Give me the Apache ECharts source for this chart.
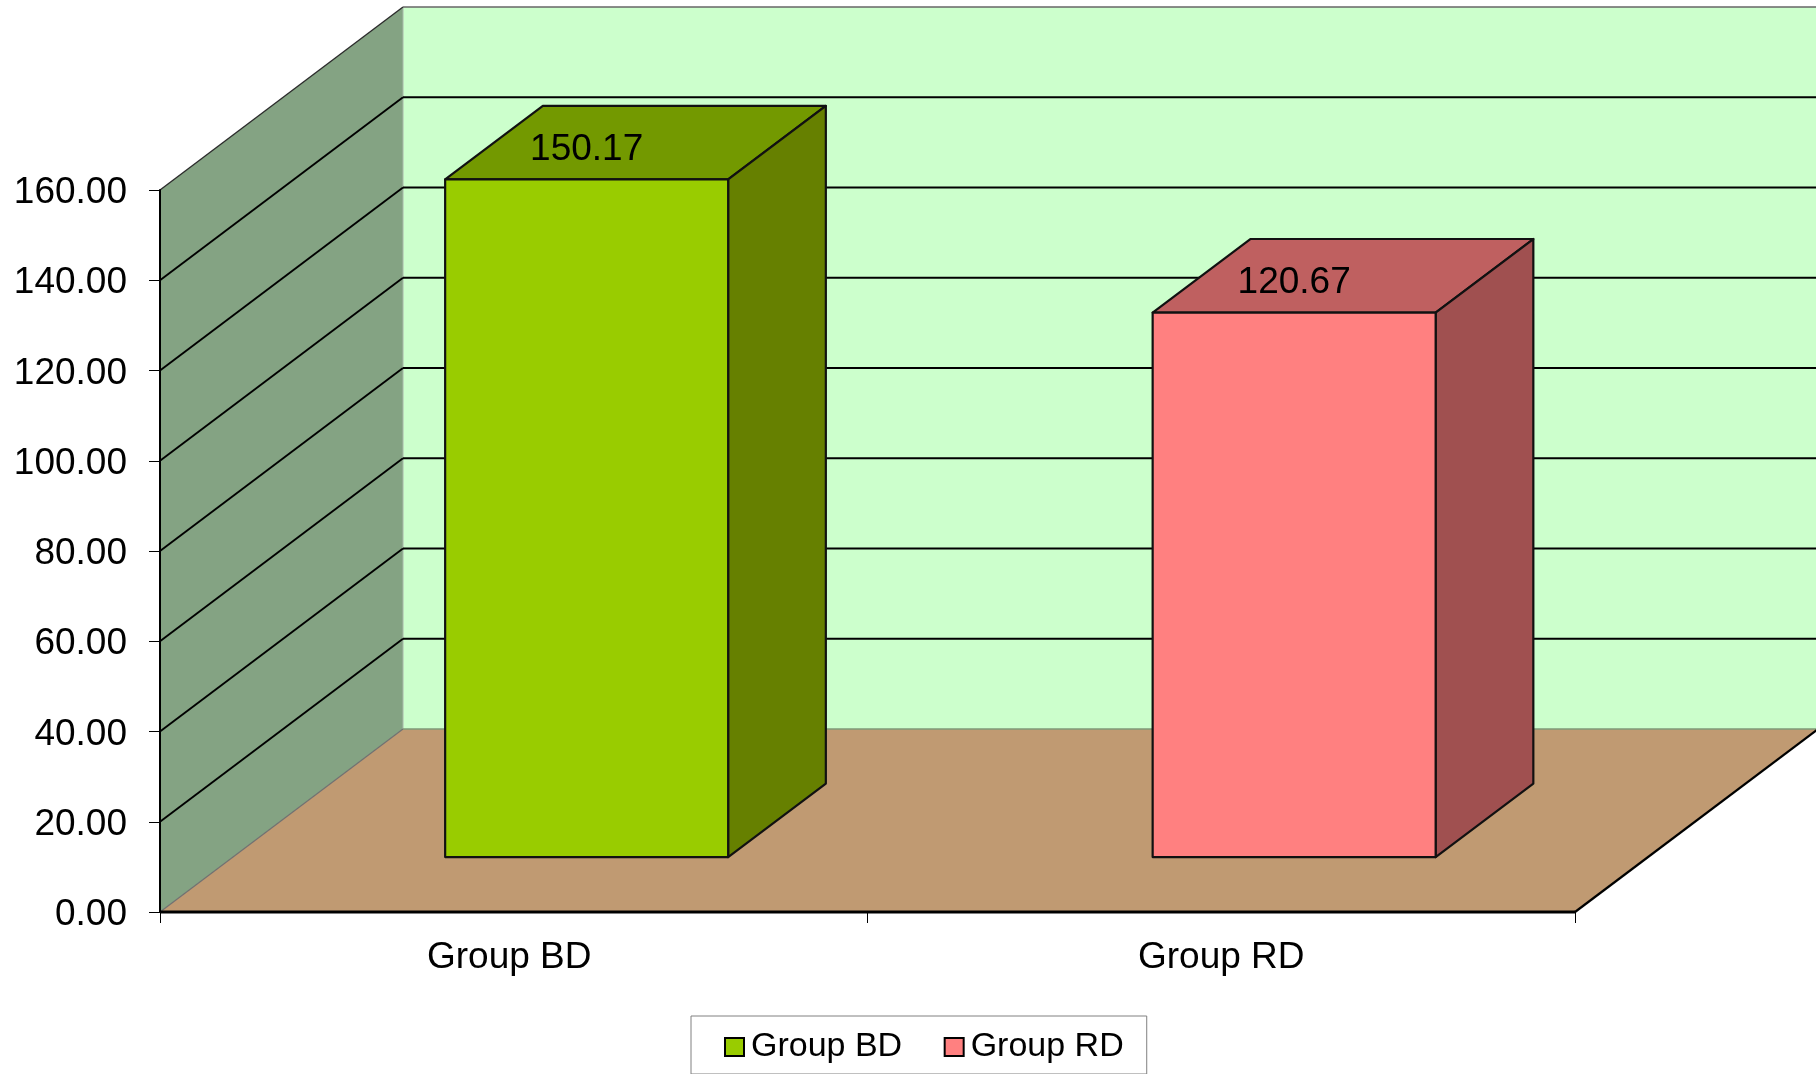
<!DOCTYPE html>
<html>
<head>
<meta charset="utf-8">
<style>html,body{margin:0;padding:0;background:#fff}#c{width:1816px;height:1074px}</style>
<script src="https://cdn.jsdelivr.net/npm/echarts@6/dist/echarts.min.js"></script>
</head>
<body>
<div id="c"></div>
<script>
const categories = ['Group BD', 'Group RD'];
const barValues = [150.17, 120.67];
const gridValues = [0, 20, 40, 60, 80, 100, 120, 140, 160];

const frontColors = ['#99CC00', '#FF8080'];
const topColors = ['#739900', '#BF6060'];
const sideColors = ['#668000', '#A05050'];

const FONT = '"Liberation Sans", Arial, sans-serif';
const DX = 243, DY = 183;           // depth of the 3D box in pixels
const BAR_START = 0.3, BAR_DEPTH = 0.402, BAR_WIDTH = 0.4;

function poly(points, fill, stroke, lw) {
  return { type: 'polygon', shape: { points }, style: { fill, stroke: stroke || null, lineWidth: lw || 0, lineJoin: 'round' } };
}
function line(a, b, color, lw) {
  return { type: 'line', shape: { x1: a[0], y1: a[1], x2: b[0], y2: b[1] }, style: { stroke: color, lineWidth: lw } };
}

function renderWalls(params) {
  const c = params.coordSys;
  const l = c.x, r = c.x + c.width, t = c.y, b = c.y + c.height;
  return {
    type: 'group',
    children: [
      poly([[l + DX, t - DY], [r + DX, t - DY], [r + DX, b - DY], [l + DX, b - DY]], '#CCFFCC'),
      poly([[l, t], [l + DX, t - DY], [l + DX, b - DY], [l, b]], '#84A383'),
      poly([[l, b], [l + DX, b - DY], [r + DX, b - DY], [r, b]], '#C09A72'),
      line([l + DX, t - DY], [l + DX, b - DY], '#A9B8A9', 1),
      line([l, b], [l + DX, b - DY], '#707070', 1.2),
      line([l + DX, b - DY], [r + DX, b - DY], '#7F9A78', 1.4),
      line([r, b], [r + DX, b - DY], '#000', 2.2),
      line([l, b], [r, b], '#000', 3)
    ]
  };
}

function renderGrid(params, api) {
  const v = api.value(0);
  if (v === 0) return { type: 'group', children: [] };
  const c = params.coordSys;
  const p = api.coord([0, v]);
  const a = [c.x, p[1]], m = [c.x + DX, p[1] - DY], e = [c.x + c.width + DX, p[1] - DY];
  const top = v === gridValues[gridValues.length - 1];
  return {
    type: 'group',
    children: [
      line(a, m, top ? '#2c2c2c' : '#000', top ? 1.4 : 1.9),
      line(m, e, top ? '#666' : '#000', top ? 1.6 : 2)
    ]
  };
}

function renderBar(params, api) {
  const i = api.value(0), v = api.value(1);
  const band = api.size([1, 0])[0];
  const w = band * BAR_WIDTH;
  const s = params.seriesIndex - 2;
  const topP = api.coord([i, v]), baseP = api.coord([i, 0]);
  const ox = DX * BAR_START, oy = DY * BAR_START;
  const dx = DX * BAR_DEPTH, dy = DY * BAR_DEPTH;
  const x0 = topP[0] - w / 2 + ox, x1 = x0 + w;
  const yT = topP[1] - oy, yB = baseP[1] - oy;
  const stroke = '#111', lw = 2.2;
  return {
    type: 'group',
    children: [
      poly([[x0, yT], [x0 + dx, yT - dy], [x1 + dx, yT - dy], [x1, yT]], topColors[s], stroke, lw),
      poly([[x1, yT], [x1 + dx, yT - dy], [x1 + dx, yB - dy], [x1, yB]], sideColors[s], stroke, lw),
      poly([[x0, yT], [x1, yT], [x1, yB], [x0, yB]], frontColors[s], stroke, lw),
      {
        type: 'text',
        style: {
          x: (x0 + x1) / 2, y: yT - 30,
          text: v.toFixed(2), fill: '#000',
          font: '37px ' + FONT, align: 'center', verticalAlign: 'middle'
        },
        z2: 10
      }
    ]
  };
}

const chart = echarts.init(document.getElementById('c'), null, { renderer: 'canvas' });
chart.setOption({
  animation: false,
  backgroundColor: '#fff',
  grid: { left: 160, top: 190, width: 1415, height: 722, containLabel: false },
  legend: {
    data: categories,
    left: 691, top: 1016,
    orient: 'horizontal',
    icon: 'rect',
    padding: [14, 23, 10, 33],
    itemWidth: 19, itemHeight: 18, itemGap: 41.5,
    borderColor: '#808080', borderWidth: 1,
    itemStyle: { borderColor: '#000', borderWidth: 2 },
    textStyle: { fontFamily: FONT, fontSize: 34, color: '#000', padding: [0, 0, 0, 2] },
    selectedMode: false
  },
  xAxis: {
    type: 'category',
    data: categories,
    z: 5,
    axisLine: { show: false },
    axisTick: { show: true, alignWithLabel: false, length: 11, lineStyle: { color: '#000', width: 1 } },
    axisLabel: {
      margin: 27, color: '#000', fontFamily: FONT, fontSize: 37,
      interval: 0,
      formatter: (val, idx) => idx === 0 ? '{a|' + val + '}' : val,
      rich: { a: { fontFamily: FONT, fontSize: 37, color: '#000', padding: [0, 9, 0, 0] } }
    },
    splitLine: { show: false }
  },
  yAxis: {
    type: 'value', min: 0, max: 160, interval: 20,
    z: 5,
    axisLine: { show: true, lineStyle: { color: '#000', width: 2 } },
    axisTick: { show: true, length: 11, lineStyle: { color: '#000', width: 1 } },
    axisLabel: {
      margin: 33, color: '#000', fontFamily: FONT, fontSize: 37,
      formatter: v => '{t|' + v.toFixed(2) + '}',
      rich: { t: { fontFamily: FONT, fontSize: 37, color: '#000', padding: [6, 0, 0, 0] } }
    },
    splitLine: { show: false }
  },
  series: [
    { name: 'walls', type: 'custom', silent: true, renderItem: renderWalls, data: [[0]], encode: { x: [], y: [] }, z: 1, clip: false },
    { name: 'gridlines', type: 'custom', silent: true, renderItem: renderGrid, data: gridValues.map(v => [v]), encode: { y: 0 }, z: 2, clip: false },
    { name: categories[0], type: 'custom', renderItem: renderBar, data: [[0, barValues[0]]], encode: { x: 0, y: 1 }, itemStyle: { color: frontColors[0] }, z: 3, clip: false },
    { name: categories[1], type: 'custom', renderItem: renderBar, data: [[1, barValues[1]]], encode: { x: 0, y: 1 }, itemStyle: { color: frontColors[1] }, z: 3, clip: false }
  ]
});
</script>
</body>
</html>
